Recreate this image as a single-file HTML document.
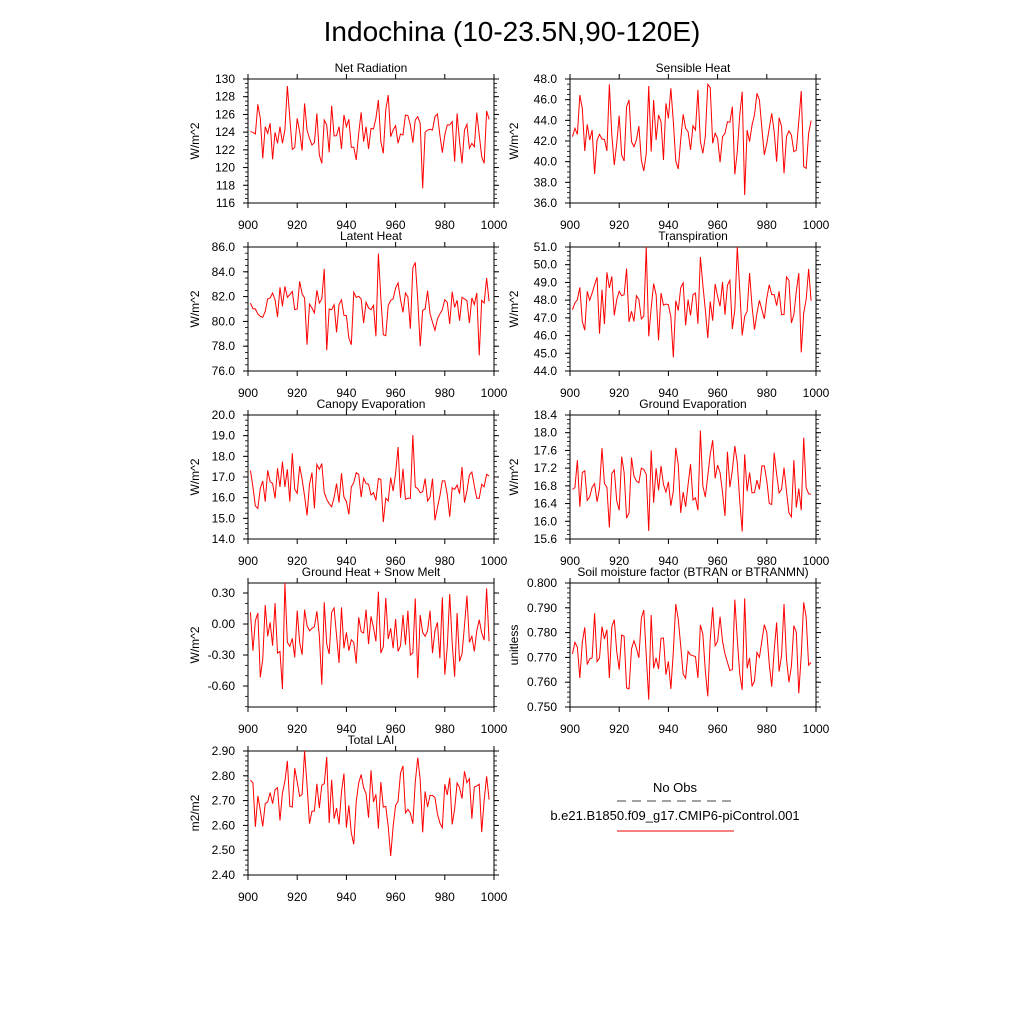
<!DOCTYPE html>
<html><head><meta charset="utf-8"><style>
body{margin:0;background:#fff;}
svg{display:block;font-family:"Liberation Sans",sans-serif;}
</style></head><body>
<svg id="fig" width="1024" height="1024" viewBox="0 0 1024 1024">
<text x="512" y="41" text-anchor="middle" font-size="28">Indochina (10-23.5N,90-120E)</text>
<g>
<text x="675" y="792" text-anchor="middle" font-size="13">No Obs</text>
<line x1="617" y1="801" x2="734" y2="801" stroke="#444" stroke-width="1" stroke-dasharray="9,6"/>
<text x="675" y="820" text-anchor="middle" font-size="13">b.e21.B1850.f09_g17.CMIP6-piControl.001</text>
<line x1="617" y1="831" x2="734" y2="831" stroke="#e00" stroke-width="1"/>
</g>
</svg>
<script>
const netRad=[124.05,123.98,123.79,127.14,125.56,121.04,124.62,123.87,125.0,120.93,123.98,122.74,124.62,122.74,124.24,129.21,125.56,122.06,122.25,125.56,124.05,121.91,127.25,124.24,123.30,122.55,122.81,126.12,121.42,120.48,125.37,124.81,121.72,126.99,123.57,123.60,124.62,122.10,125.94,124.62,125.45,122.29,122.29,120.86,123.87,126.24,122.93,124.62,122.10,124.43,124.36,125.56,127.63,122.93,121.61,126.50,128.19,123.49,124.24,124.73,122.74,123.79,123.68,125.94,125.86,124.81,122.81,125.37,125.75,125.0,117.66,123.98,124.24,124.32,124.24,125.75,126.05,123.68,121.68,123.68,124.81,124.81,125.18,120.67,126.12,122.93,120.48,124.24,124.88,122.17,122.74,122.36,126.20,123.68,121.23,120.48,126.39,125.45];
const sensible=[42.42,43.23,42.64,46.45,45.16,41.03,43.61,42.10,43.06,38.81,42.10,42.64,42.19,42.16,41.03,47.48,42.58,39.68,41.77,44.45,40.65,40.06,45.32,45.97,41.94,41.45,42.10,43.45,40.16,39.10,40.81,47.32,40.97,45.97,42.10,44.52,43.87,40.16,45.65,44.19,47.10,43.87,40.06,39.29,42.10,44.58,43.23,42.90,41.13,43.48,43.06,46.94,41.94,40.81,42.42,47.48,47.16,41.77,42.74,42.26,39.94,42.42,42.74,43.87,43.81,45.32,38.77,40.97,44.52,46.77,36.77,43.06,41.94,43.55,44.52,46.61,45.97,43.23,40.65,41.77,43.23,44.68,42.90,40.0,44.26,43.39,38.87,42.42,42.97,42.58,40.97,41.13,43.87,46.84,39.52,39.35,42.74,43.97];
const latent=[81.48,81.03,81.0,80.60,80.41,80.33,80.81,81.81,81.89,82.29,81.75,80.36,82.75,81.22,82.83,81.94,82.16,82.42,80.95,81.0,83.23,82.21,81.89,78.12,81.40,81.08,80.68,82.51,81.48,81.81,84.23,77.67,81.0,80.95,81.35,79.12,81.35,81.75,80.49,80.46,78.66,78.12,82.34,81.94,82.02,81.81,79.87,81.54,81.08,80.95,81.30,78.80,85.46,81.89,78.93,78.85,81.27,81.70,81.81,82.69,83.10,81.75,80.73,82.29,81.97,79.41,84.31,84.76,81.75,77.99,80.89,81.0,82.48,80.62,79.93,79.28,80.19,80.60,80.95,81.75,81.54,79.79,82.40,81.13,81.70,80.06,81.94,81.81,81.67,79.87,81.89,81.35,82.29,77.26,81.70,81.48,83.50,81.62];
const transp=[47.46,47.84,48.03,48.72,46.80,46.30,48.50,47.99,48.40,48.87,49.29,46.11,48.59,46.65,49.57,48.69,49.34,47.14,48.03,48.50,48.25,48.31,49.78,46.77,47.37,46.80,48.25,48.03,46.94,47.09,51.0,45.96,47.56,48.93,48.31,45.73,48.40,47.71,47.78,47.74,47.05,44.77,47.97,47.41,48.69,48.97,46.58,48.03,47.14,48.31,48.40,46.67,50.44,48.87,47.46,45.86,47.93,46.84,48.91,48.21,47.65,49.02,47.18,48.84,49.12,46.37,47.46,51.0,48.59,46.01,47.09,47.37,49.53,47.65,46.33,47.27,47.99,47.46,46.94,48.12,48.87,48.31,48.31,47.69,48.50,47.18,47.18,49.31,49.12,46.71,47.18,48.50,49.53,45.05,47.27,48.03,49.76,47.97];
const canopy=[17.32,16.52,15.60,15.48,16.45,16.81,15.81,17.32,16.77,16.69,15.97,17.42,16.52,17.74,16.52,17.37,15.81,18.15,16.40,16.21,17.53,16.89,16.08,15.14,16.65,17.21,15.48,17.61,17.37,17.65,16.24,15.92,15.71,15.56,16.0,16.68,15.76,17.18,16.03,15.81,15.19,16.52,16.73,17.21,17.13,16.03,16.94,16.68,16.65,16.13,16.24,15.87,16.92,16.89,14.82,15.97,15.84,16.97,16.32,17.18,18.45,16.0,17.40,15.92,15.97,15.97,19.03,16.52,16.44,16.24,16.29,16.92,15.84,16.03,16.92,14.90,15.52,16.08,16.81,16.81,16.16,15.08,16.48,16.40,16.61,16.19,17.48,15.76,16.32,17.10,17.24,16.56,15.97,15.97,16.65,16.53,17.13,17.05];
const groundEvap=[16.72,16.76,17.38,16.33,17.10,17.14,16.47,16.55,16.77,16.85,16.44,16.74,17.65,16.85,16.77,15.86,17.08,17.16,16.46,16.25,17.46,17.10,16.07,16.19,17.44,17.02,16.91,16.87,17.20,17.17,17.06,15.78,17.60,16.42,17.20,16.70,17.25,16.83,16.66,16.89,16.35,16.68,17.66,17.29,16.19,16.66,16.33,16.83,17.29,16.48,16.53,16.25,18.05,16.80,16.55,17.02,17.51,17.83,16.97,17.27,17.10,16.65,16.12,17.57,16.77,17.15,17.70,17.32,16.46,15.77,17.51,16.68,17.10,16.64,16.65,16.93,16.72,17.25,17.25,16.91,16.40,16.38,17.55,17.06,16.64,16.72,17.21,16.68,16.19,16.10,17.38,16.31,16.74,16.25,17.89,16.76,16.62,16.61];
const groundHeat=[0.113,-0.258,0.032,0.106,-0.516,-0.339,0.184,-0.119,0.016,-0.210,0.203,-0.281,-0.265,-0.629,0.397,-0.177,-0.216,-0.139,-0.323,0.129,-0.177,-0.297,0.139,-0.016,-0.065,-0.042,-0.026,0.123,-0.113,-0.587,0.210,-0.194,-0.290,0.113,0.155,-0.113,-0.377,0.161,-0.235,-0.081,-0.258,-0.152,-0.177,-0.381,0.065,-0.074,-0.087,0.139,-0.194,0.074,-0.032,-0.168,0.313,-0.281,-0.219,0.252,-0.145,-0.042,-0.235,0.048,-0.265,-0.210,0.087,-0.200,0.129,-0.300,-0.281,0.248,-0.523,0.087,-0.081,-0.119,-0.065,0.129,-0.281,-0.065,0.016,-0.332,0.258,-0.490,-0.226,0.290,-0.184,-0.510,0.106,-0.361,-0.290,-0.016,0.274,-0.177,-0.119,-0.265,-0.065,0.042,-0.087,-0.155,0.345,-0.168];
const soilMoist=[0.7714,0.7761,0.7741,0.7617,0.7761,0.7821,0.7671,0.7694,0.7698,0.7878,0.7683,0.7698,0.7824,0.7774,0.7812,0.7617,0.7824,0.7852,0.7723,0.7651,0.7790,0.7785,0.7577,0.7573,0.7734,0.7767,0.7737,0.7698,0.7858,0.7891,0.7707,0.7530,0.7871,0.7656,0.7698,0.7653,0.7777,0.7778,0.7630,0.7684,0.7573,0.7723,0.7915,0.7855,0.7747,0.7633,0.7616,0.7724,0.7710,0.7707,0.7703,0.7617,0.7831,0.7794,0.7647,0.7543,0.7772,0.7902,0.7747,0.7765,0.7864,0.7765,0.7714,0.7680,0.7647,0.7651,0.7933,0.7774,0.7633,0.7569,0.7938,0.7656,0.7698,0.7583,0.7606,0.7720,0.7700,0.7767,0.7832,0.7801,0.7673,0.7582,0.7727,0.7841,0.7643,0.7707,0.7915,0.7694,0.7600,0.7664,0.7828,0.7801,0.7555,0.7710,0.7922,0.7862,0.7669,0.7680];
const totalLAI=[2.782,2.772,2.594,2.719,2.661,2.596,2.688,2.694,2.732,2.688,2.744,2.752,2.620,2.731,2.778,2.860,2.677,2.674,2.831,2.775,2.717,2.725,2.900,2.762,2.607,2.657,2.658,2.768,2.670,2.762,2.768,2.876,2.610,2.784,2.627,2.670,2.604,2.735,2.809,2.591,2.681,2.569,2.524,2.697,2.771,2.805,2.752,2.728,2.631,2.822,2.694,2.725,2.587,2.775,2.674,2.677,2.596,2.477,2.596,2.681,2.697,2.811,2.840,2.650,2.665,2.650,2.607,2.775,2.873,2.784,2.572,2.737,2.674,2.721,2.721,2.712,2.647,2.610,2.591,2.766,2.723,2.792,2.604,2.667,2.771,2.752,2.708,2.818,2.772,2.788,2.627,2.755,2.759,2.766,2.573,2.701,2.798,2.704];
const xTicks=[900,920,940,960,980,1000];
const startYear=901;

const NS='http://www.w3.org/2000/svg';
const svg=document.getElementById('fig');
function mk(tag,attrs,parent){const e=document.createElementNS(NS,tag);for(const k in attrs)e.setAttribute(k,attrs[k]);(parent||svg).appendChild(e);return e;}

const panels=[
 {name:'net-radiation',title:'Net Radiation',unit:'W/m^2',data:netRad,col:0,row:0,ymin:116,ymax:130,t0:116,step:2,dec:0,minor:4},
 {name:'sensible-heat',title:'Sensible Heat',unit:'W/m^2',data:sensible,col:1,row:0,ymin:36,ymax:48,t0:36,step:2,dec:1,minor:4},
 {name:'latent-heat',title:'Latent Heat',unit:'W/m^2',data:latent,col:0,row:1,ymin:76,ymax:86,t0:76,step:2,dec:1,minor:4},
 {name:'transpiration',title:'Transpiration',unit:'W/m^2',data:transp,col:1,row:1,ymin:44,ymax:51,t0:44,step:1,dec:1,minor:4},
 {name:'canopy-evaporation',title:'Canopy Evaporation',unit:'W/m^2',data:canopy,col:0,row:2,ymin:14,ymax:20,t0:14,step:1,dec:1,minor:4},
 {name:'ground-evaporation',title:'Ground Evaporation',unit:'W/m^2',data:groundEvap,col:1,row:2,ymin:15.6,ymax:18.4,t0:15.6,step:0.4,dec:1,minor:4},
 {name:'ground-heat',title:'Ground Heat + Snow Melt',unit:'W/m^2',data:groundHeat,col:0,row:3,ymin:-0.803,ymax:0.397,t0:-0.6,step:0.3,dec:2,minor:3},
 {name:'soil-moisture',title:'Soil moisture factor (BTRAN or BTRANMN)',unit:'unitless',data:soilMoist,col:1,row:3,ymin:0.75,ymax:0.80,t0:0.75,step:0.01,dec:3,minor:5},
 {name:'total-lai',title:'Total LAI',unit:'m2/m2',data:totalLAI,col:0,row:4,ymin:2.4,ymax:2.9,t0:2.4,step:0.1,dec:2,minor:5}
];

panels.forEach(p=>{
 const L=p.col?570:248, R=L+246, T=79+p.row*168, B=T+124;
 const g=mk('g',{});
 
 
 const xs=v=>L+(v-900)/100*(R-L);
 const ys=v=>B-(v-p.ymin)/(p.ymax-p.ymin)*(B-T);
 const t=mk('text',{x:(L+R)/2,y:T-7,'text-anchor':'middle','font-size':12},g);
 t.textContent=p.title;
 
 
 const ax=p.col?518:199;
 const at=mk('text',{x:ax,y:(T+B)/2,'text-anchor':'middle','font-size':12,transform:'rotate(-90 '+ax+' '+((T+B)/2)+')'},g);
 at.textContent=p.unit;
 
 
 xTicks.forEach(v=>{
  const x=xs(v);
  mk('line',{x1:x,y1:B,x2:x,y2:B+5,stroke:'#000'},g);
  mk('line',{x1:x,y1:T,x2:x,y2:T-5,stroke:'#000'},g);
  const tl=mk('text',{x:x,y:B+26,'text-anchor':'middle','font-size':12},g);
  tl.textContent=v;
  
  
 });
 const n=Math.round((p.ymax-p.t0)/p.step+1e-6);
 for(let i=0;i<=n;i++){
  const v=p.t0+i*p.step;
  if(v>p.ymax+1e-9)break;
  const y=ys(v);
  mk('line',{x1:L,y1:y,x2:L-5,y2:y,stroke:'#000'},g);
  mk('line',{x1:R,y1:y,x2:R+5,y2:y,stroke:'#000'},g);
  const tl=mk('text',{x:L-13,y:y+4,'text-anchor':'end','font-size':12},g);
  tl.textContent=v.toFixed(p.dec);
  
  
 }
 const ms=p.step/p.minor;
 for(let v=p.t0-10*p.step;v<=p.ymax+1e-9;v+=ms){
  if(v<p.ymin-1e-9)continue;
  const y=ys(v);
  mk('line',{x1:L,y1:y,x2:L-3,y2:y,stroke:'#000','stroke-width':0.8},g);
  mk('line',{x1:R,y1:y,x2:R+3,y2:y,stroke:'#000','stroke-width':0.8},g);
 }
 mk('rect',{x:L,y:T,width:R-L,height:B-T,fill:'none',stroke:'#000','stroke-width':1},g);
 const pts=p.data.map((v,i)=>xs(startYear+i).toFixed(2)+','+ys(v).toFixed(2)).join(' ');
 const pl=mk('polyline',{points:pts,fill:'none',stroke:'#f00','stroke-width':1},g);
 
 
});
</script>
</body></html>
